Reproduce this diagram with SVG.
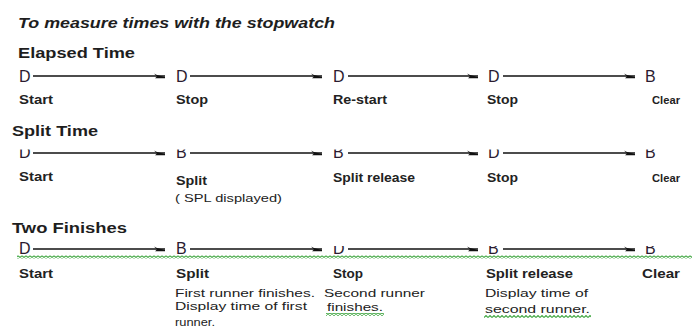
<svg xmlns="http://www.w3.org/2000/svg" width="692" height="329" viewBox="0 0 692 329">
<style>
text{font-family:"Liberation Sans",Arial,sans-serif;}
.ttl{font-weight:bold;font-size:14px;fill:#1e1e1e;}
.hd{font-weight:bold;font-size:14px;fill:#1e1e1e;}
.st{font-size:16px;fill:#2a1b30;}
.lb{font-weight:bold;font-size:12px;fill:#222;}
.sm{font-weight:bold;font-size:11px;fill:#222;}
.ds{font-size:11px;fill:#222;}
.ln{stroke:#111;stroke-width:1.3;fill:none;marker-end:url(#ah);}
</style>
<defs>
<marker id="ah" markerUnits="userSpaceOnUse" markerWidth="12" markerHeight="8" refX="11" refY="4" orient="auto" overflow="visible">
<path d="M0,1.5 L3,3 L11,5 L11,6.2 L1,6.2 L3,4.5 Z" fill="#111"/>
</marker>
<pattern id="sq" patternUnits="userSpaceOnUse" width="4" height="3">
<path d="M0,2.5 L2,0.5 L4,2.5" stroke="#44a845" stroke-width="1.1" fill="none"/>
</pattern>
<clipPath id="c2"><rect x="0" y="149.5" width="692" height="20"/></clipPath>
<clipPath id="c3"><rect x="0" y="246" width="692" height="20"/></clipPath>
</defs>

<text class="ttl" x="18" y="28" font-style="italic" textLength="317" lengthAdjust="spacingAndGlyphs">To measure times with the stopwatch</text>

<g id="elapsed">
<text class="hd" x="18" y="58" textLength="117" lengthAdjust="spacingAndGlyphs">Elapsed Time</text>
<g id="e1"><text class="st" x="19" y="82">D</text><text class="lb" x="19" y="104" textLength="34" lengthAdjust="spacingAndGlyphs">Start</text></g>
<g id="e2"><text class="st" x="176" y="82">D</text><text class="lb" x="176" y="104" textLength="32" lengthAdjust="spacingAndGlyphs">Stop</text></g>
<g id="e3"><text class="st" x="333" y="82">D</text><text class="lb" x="333" y="104" textLength="54" lengthAdjust="spacingAndGlyphs">Re-start</text></g>
<g id="e4"><text class="st" x="488" y="82">D</text><text class="lb" x="487" y="104" textLength="31" lengthAdjust="spacingAndGlyphs">Stop</text></g>
<g id="e5"><text class="st" x="645" y="82">B</text><text class="sm" x="652" y="104" textLength="28" lengthAdjust="spacingAndGlyphs">Clear</text></g>
</g>

<g id="split">
<text class="hd" x="12" y="136" textLength="86" lengthAdjust="spacingAndGlyphs">Split Time</text>
<g id="s1"><text class="st" x="19" y="158" clip-path="url(#c2)">D</text><text class="lb" x="19" y="181" textLength="34" lengthAdjust="spacingAndGlyphs">Start</text></g>
<g id="s2"><text class="st" x="176" y="158" clip-path="url(#c2)">B</text><text class="lb" x="176" y="185" textLength="31" lengthAdjust="spacingAndGlyphs">Split</text><text class="ds" x="175" y="202" textLength="107" lengthAdjust="spacingAndGlyphs">( SPL displayed)</text></g>
<g id="s3"><text class="st" x="333" y="158" clip-path="url(#c2)">B</text><text class="lb" x="333" y="182" textLength="82" lengthAdjust="spacingAndGlyphs">Split release</text></g>
<g id="s4"><text class="st" x="488" y="158" clip-path="url(#c2)">D</text><text class="lb" x="487" y="182" textLength="31" lengthAdjust="spacingAndGlyphs">Stop</text></g>
<g id="s5"><text class="st" x="645" y="158" clip-path="url(#c2)">B</text><text class="sm" x="652" y="182" textLength="28" lengthAdjust="spacingAndGlyphs">Clear</text></g>
</g>

<g id="two">
<text class="hd" x="12" y="233" textLength="115" lengthAdjust="spacingAndGlyphs">Two Finishes</text>
<rect x="17" y="255.5" width="675" height="3" fill="url(#sq)"/>
<g id="t1"><text class="st" x="19" y="254">D</text><text class="lb" x="19" y="278" textLength="34" lengthAdjust="spacingAndGlyphs">Start</text></g>
<g id="t2"><text class="st" x="176" y="254">B</text><text class="lb" x="176" y="278" textLength="33" lengthAdjust="spacingAndGlyphs">Split</text>
<text class="ds" x="175" y="297" textLength="140" lengthAdjust="spacingAndGlyphs">First runner  finishes.</text>
<text class="ds" x="175" y="310" textLength="132" lengthAdjust="spacingAndGlyphs">Display time of first</text>
<text class="ds" x="175" y="326" textLength="40" lengthAdjust="spacingAndGlyphs">runner.</text></g>
<g id="t3"><text class="st" x="333" y="254" clip-path="url(#c3)">D</text><text class="lb" x="333" y="278" textLength="30" lengthAdjust="spacingAndGlyphs">Stop</text>
<text class="ds" x="324" y="297" textLength="101" lengthAdjust="spacingAndGlyphs">Second  runner</text>
<text class="ds" x="327" y="311" textLength="56" lengthAdjust="spacingAndGlyphs">finishes.</text>
<rect x="326" y="313" width="58" height="3" fill="url(#sq)"/></g>
<g id="t4"><text class="st" x="488" y="254" clip-path="url(#c3)">B</text><text class="lb" x="486" y="278" textLength="87" lengthAdjust="spacingAndGlyphs">Split  release</text>
<text class="ds" x="485" y="297" textLength="103" lengthAdjust="spacingAndGlyphs">Display time of</text>
<text class="ds" x="485" y="313" textLength="105" lengthAdjust="spacingAndGlyphs">second  runner.</text>
<rect x="484" y="315" width="107" height="3" fill="url(#sq)"/></g>
<g id="t5"><text class="st" x="645" y="254" clip-path="url(#c3)">B</text><text class="lb" x="642" y="278" textLength="38" lengthAdjust="spacingAndGlyphs">Clear</text></g>
</g>

<g id="connectors">
<line class="ln" x1="33" y1="76" x2="165" y2="76"/>
<line class="ln" x1="190" y1="76" x2="322" y2="76"/>
<line class="ln" x1="348" y1="76" x2="478" y2="76"/>
<line class="ln" x1="503" y1="76" x2="635" y2="76"/>
<line class="ln" x1="33" y1="153" x2="165" y2="153"/>
<line class="ln" x1="190" y1="153" x2="322" y2="153"/>
<line class="ln" x1="348" y1="153" x2="478" y2="153"/>
<line class="ln" x1="503" y1="153" x2="635" y2="153"/>
<line class="ln" x1="33" y1="249" x2="165" y2="249"/>
<line class="ln" x1="190" y1="249" x2="322" y2="249"/>
<line class="ln" x1="348" y1="249" x2="478" y2="249"/>
<line class="ln" x1="503" y1="249" x2="635" y2="249"/>
</g>
</svg>
